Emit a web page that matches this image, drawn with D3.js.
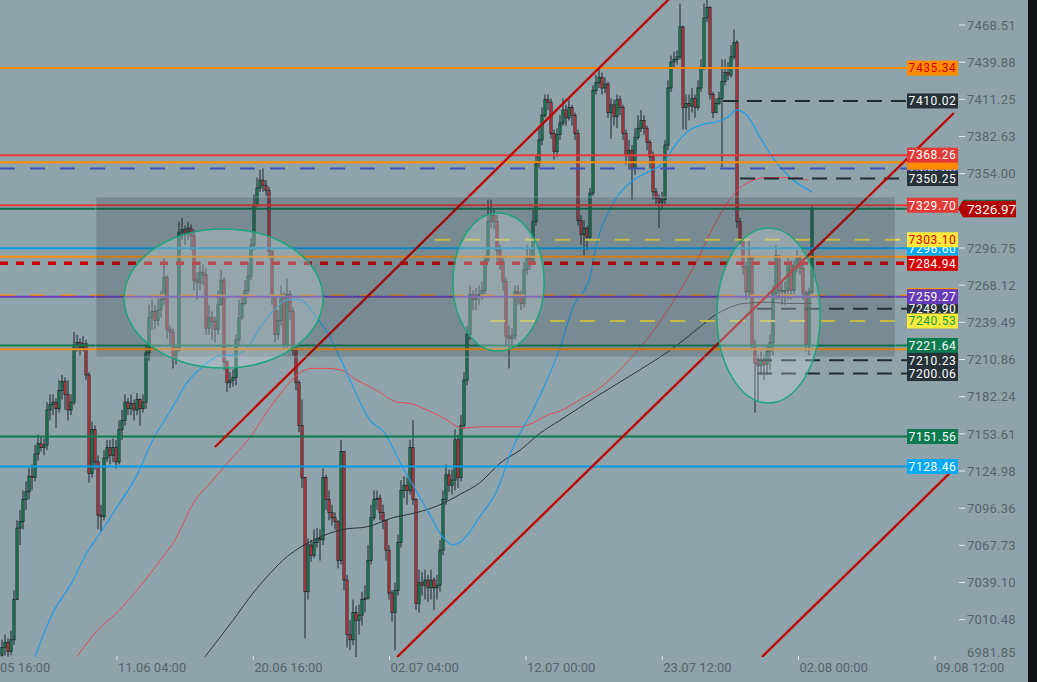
<!DOCTYPE html>
<html><head><meta charset="utf-8">
<script src="https://cdn.jsdelivr.net/npm/d3@7"></script>
<style>
html,body{margin:0;padding:0;background:#8fa3ab;overflow:hidden}
svg{display:block}
text{font-family:Roboto,"DejaVu Sans",sans-serif}
</style></head><body>
<svg id="c" width="1037" height="682"></svg>
<script>
// ---------- DATA ----------
const firstOpen = 6983;
const closes = [
6989,6993,6986,6995,7026,7081,7086,7103,7109,7121,
7120,7138,7146,7143,7145,7172,7176,7178,7173,7187,
7194,7184,7172,7178,7222,7224,7220,7223,7199,7123,
7157,7132,7091,7090,7135,7143,7137,7143,7132,7157,
7164,7178,7173,7177,7172,7180,7173,7178,7216,7243,
7248,7241,7249,7257,7274,7234,7232,7212,7218,7309,
7311,7308,7312,7306,7272,7270,7278,7276,7235,7243,
7240,7234,7253,7272,7209,7193,7195,7197,7226,7243,
7254,7264,7275,7299,7330,7343,7349,7345,7341,7294,
7259,7230,7241,7261,7222,7261,7248,7218,7193,7160,
7120,7032,7068,7060,7070,7073,7072,7120,7103,7093,
7089,7086,7056,7140,7041,6999,6995,7016,7010,7014,
7026,7027,7056,7089,7103,7104,7093,7087,7064,7031,
7016,7033,7070,7110,7114,7110,7143,7103,7023,7039,
7037,7041,7035,7041,7035,7037,7064,7103,7122,7114,
7118,7149,7120,7160,7195,7230,7261,7257,7260,7261,
7264,7287,7317,7322,7317,7295,7286,7271,7229,7227,
7229,7263,7259,7254,7280,7289,7286,7317,7362,7380,
7399,7411,7409,7385,7371,7384,7393,7403,7397,7405,
7399,7385,7318,7307,7312,7305,7339,7418,7424,7428,
7420,7423,7401,7407,7398,7411,7405,7385,7368,7372,
7358,7382,7389,7395,7389,7378,7367,7340,7335,7332,
7334,7376,7420,7440,7442,7444,7467,7405,7408,7406,
7412,7405,7420,7436,7474,7482,7415,7401,7408,7412,
7425,7432,7430,7444,7455,7317,7303,7282,7263,7289,
7222,7208,7206,7210,7207,7217,7224,7262,7291,7264,
7263,7264,7284,7264,7283,7289,7281,7262,7222,7263,
7326.97];
const highs = [
6995,6999,6996,7002,7033,7087,7095,7110,7117,7127,
7130,7145,7153,7152,7150,7178,7184,7184,7181,7195,
7199,7197,7195,7184,7232,7230,7227,7229,7226,7201,
7163,7160,7137,7099,7141,7149,7149,7150,7149,7164,
7172,7184,7181,7184,7180,7185,7181,7184,7222,7253,
7257,7253,7258,7264,7289,7276,7237,7235,7222,7317,
7320,7314,7317,7315,7311,7278,7286,7284,7281,7253,
7248,7244,7264,7280,7274,7210,7201,7203,7230,7257,
7261,7272,7286,7304,7338,7351,7357,7358,7349,7344,
7295,7261,7249,7268,7263,7273,7264,7251,7222,7195,
7180,7120,7073,7072,7080,7081,7080,7127,7122,7110,
7099,7093,7087,7149,7140,7045,7010,7026,7021,7022,
7032,7037,7068,7099,7110,7110,7107,7099,7087,7068,
7033,7039,7076,7118,7121,7120,7149,7164,7104,7049,
7047,7049,7045,7049,7043,7045,7072,7110,7130,7126,
7126,7157,7153,7168,7201,7237,7268,7264,7266,7268,
7271,7291,7334,7334,7326,7322,7299,7289,7274,7237,
7235,7268,7268,7264,7286,7299,7297,7326,7368,7389,
7405,7415,7415,7412,7388,7389,7399,7412,7407,7411,
7407,7401,7388,7322,7318,7314,7343,7422,7430,7435,
7432,7428,7425,7412,7411,7415,7414,7407,7388,7380,
7376,7389,7399,7403,7399,7391,7380,7371,7343,7338,
7340,7380,7426,7445,7448,7449,7485,7468,7415,7415,
7420,7415,7426,7442,7485,7488,7483,7417,7412,7417,
7442,7442,7440,7453,7465,7457,7320,7295,7286,7303,
7291,7226,7214,7217,7214,7222,7230,7268,7299,7291,
7272,7271,7289,7287,7287,7295,7291,7284,7264,7266,
7330];
const lows = [
6982,6983,6982,6983,6991,7026,7068,7080,7095,7103,
7110,7117,7133,7140,7137,7141,7164,7168,7158,7170,
7180,7172,7164,7168,7176,7217,7214,7217,7195,7116,
7120,7126,7080,7078,7087,7132,7130,7132,7127,7130,
7149,7160,7168,7168,7164,7168,7160,7170,7173,7210,
7234,7234,7237,7243,7253,7227,7222,7204,7207,7217,
7303,7299,7303,7295,7264,7257,7264,7268,7230,7230,
7226,7224,7230,7253,7203,7186,7189,7190,7191,7222,
7241,7253,7261,7272,7295,7328,7340,7340,7337,7289,
7253,7224,7226,7237,7218,7218,7241,7214,7187,7155,
7112,6996,7026,7055,7058,7066,7056,7068,7095,7087,
7083,7080,7050,7053,7033,6989,6987,6991,6981,6999,
7006,7016,7026,7053,7087,7095,7087,7080,7056,7026,
7009,6987,7029,7066,7104,7099,7107,7099,7018,7016,
7029,7026,7024,7026,7018,7026,7032,7060,7099,7109,
7107,7110,7112,7117,7158,7191,7226,7249,7249,7253,
7257,7261,7286,7312,7311,7287,7280,7264,7222,7204,
7218,7226,7253,7249,7251,7276,7280,7284,7314,7358,
7376,7397,7403,7381,7365,7367,7380,7391,7391,7395,
7391,7380,7314,7299,7291,7295,7303,7337,7415,7420,
7415,7416,7397,7381,7391,7389,7399,7380,7361,7357,
7334,7353,7380,7386,7384,7372,7358,7334,7330,7312,
7326,7330,7372,7417,7435,7438,7442,7388,7388,7395,
7401,7397,7403,7417,7434,7471,7411,7397,7401,7407,
7359,7422,7426,7428,7442,7312,7299,7276,7257,7260,
7218,7170,7178,7199,7195,7199,7203,7214,7257,7257,
7253,7253,7257,7257,7261,7278,7276,7257,7217,7214,
7261];

// moving averages (candle index, value)
const maFastIdx = [11,17,23.3,28.3,32.7,38.3,45,50.3,55,58.3,61.7,66.7,73.3,77,81.7,87,91.7,95,99.3,103.7,108.3,112.7,116,122.7,127.7,131.7,136,141.7,147,150.3,153.7,159.3,165,170.3,177,181.7,186,190.3,196,197,203.7,209.3,215,220.3,225,228.3,233.7,238.3,241.7,245,248.3,252.7,257,262.7,270];
const maFastVal = [6982,7016,7039,7062,7077,7097,7122,7149,7167,7180,7193,7205,7214,7214,7220,7239,7251,7257,7257,7247,7232,7212,7195,7164,7154,7136,7118,7095,7074,7068,7072,7090,7110,7143,7172,7195,7220,7251,7274,7287,7331,7347,7355,7362,7378,7386,7392,7394,7397,7403,7399,7382,7366,7351,7340];
const maMidIdx = [25,31.7,38.3,46,52.7,57.7,63.7,70.3,77,82.7,88.7,93.7,98.3,103.7,108.3,112.7,118.3,125,131.7,136,141.7,147,153.7,159.3,166,172.7,177,181.7,186,192.7,199.3,206,212.7,219.3,226,231.7,236,240.3,245,249.3,255,262.7,268.7];
const maMidVal = [6982,7002,7016,7036,7056,7072,7100,7118,7136,7151,7172,7187,7199,7204,7204,7203,7195,7187,7178,7177,7172,7166,7158,7159,7159,7159,7162,7168,7171,7180,7189,7203,7220,7240,7264,7287,7308,7326,7341,7348,7351,7351,7349];
const maSlowIdx = [67.7,77,83.7,89.3,95,99.3,105,113.7,121.7,130.3,138.3,146,152.7,159.3,166,172.7,179.3,186,199.3,212.7,222.7,232.7,237,242.7,247,255,261.7,270];
const maSlowVal = [6982,7010,7031,7046,7059,7066,7073,7080,7082,7089,7093,7099,7107,7116,7131,7141,7154,7164,7184,7203,7218,7236,7244,7251,7254,7255,7254,7254];

// horizontal levels
const levelPrices  = [7435.34,7410.02,7368.26,7362.80,7358.00,7350.25,7329.70,7303.10,7296.60,7290.00,7284.94,7260.10,7259.27,7249.90,7240.53,7221.64,7218.80,7210.23,7200.06,7151.56,7128.46];
const levelStartIdx= [-1,240.3,-1,-1,-1,246,-1,144.3,-1,-1,-1,-1,-1,251.7,162.7,-1,-1,251.7,251.7,-1,-1];
const levelKinds   = ["orange","blackDash","red","orange","blueDash","blackDash","red","yellowDash","sky","orange","redDash","orangeDash","purple","blackDash","yellowDash","green","orange","blackDash","blackDash","green","sky"];
const labelOrder   = [0,1,4,3,2,5,6,9,10,8,7,11,13,12,14,16,15,17,18,19,20];
const labelCovered = [3,9,11,16];   // labels fully hidden under neighbours: only a colour sliver shows
const lastPrice = 7326.97;

// trend lines [idx1, price1, idx2, price2]
const trendLines = [[71,7143.5,226.5,7498],[131.7,6981.7,317.3,7400.7],[253.3,6981.7,317,7125.8]];
// ellipses [idx1, price1, idx2, price2] (bounding box)
const ellipses = [[40.7,7311.4,107,7204.3],[150.3,7323.7,180.7,7217.4],[238.3,7312.2,272.7,7177.4]];
// zone rectangle
const zone = [31.3,7336.0,297.7,7212.8];

const priceTicks = [7468.51,7439.88,7411.25,7382.63,7354.00,7296.75,7268.12,7239.49,7210.86,7182.24,7153.61,7124.98,7096.36,7067.73,7039.10,7010.48,6981.85];
const timeTickIdx = [38.33,83.77,129.2,174.67,220.1,265.5,311];
const timeTickLabels = ["11.06 04:00","20.06 16:00","02.07 04:00","12.07 00:00","23.07 12:00","02.08 00:00","09.08 12:00"];
const firstTimeLabel = "05 16:00";

// ---------- STYLES ----------
const kindStyle = {
  orange:{c:"#ff8c00",w:2,d:null,bg:"#ff8c00",t:"#d50000"},
  blackDash:{c:"#222b30",w:2,d:"15,9",bg:"#263238",t:"#ffffff"},
  red:{c:"#e53935",w:2,d:null,bg:"#e53935",t:"#ffffff"},
  blueDash:{c:"#3f51b5",w:2,d:"15,15",bg:"#3f51b5",t:"#ffffff"},
  yellowDash:{c:"#f0e040",w:2,d:"15,15",bg:"#ffeb3b",t:"#d50000"},
  sky:{c:"#039be5",w:2,d:null,bg:"#03a9f4",t:"#ffffff"},
  redDash:{c:"#cc0000",w:3.5,d:"8,8",bg:"#d50000",t:"#ffffff"},
  orangeDash:{c:"#ff9800",w:2,d:"15,15",bg:"#ff9800",t:"#ffffff"},
  purple:{c:"#673ab7",w:2,d:null,bg:"#673ab7",t:"#ffffff"},
  green:{c:"#0b7a4f",w:2,d:null,bg:"#0b7a4f",t:"#ffffff"}
};
const labelTextOverride = {14:"#0a9b4a"};

// ---------- CHART ----------
const svg = d3.select("#c");
const W = 1037, H = 682;
svg.append("rect").attr("width",W).attr("height",H).attr("fill","#8fa3ab");

const x = d3.scaleLinear().domain([0,270]).range([2,812]);
const y = d3.scaleLinear().domain([7124.98,7468.51]).range([471,25]);

const defs = svg.append("defs");
defs.append("clipPath").attr("id","plot").append("rect").attr("x",0).attr("y",0).attr("width",958).attr("height",657);

const g = svg.append("g").attr("clip-path","url(#plot)");

// candles
const candles = closes.map((c,i)=>{
  const o = i===0 ? firstOpen : closes[i-1];
  return {i,o,c,h:Math.max(highs[i],o,c),l:Math.min(lows[i],o,c)};
});
const cg = g.append("g");
cg.selectAll("line.w").data(candles).join("line")
  .attr("x1",d=>x(d.i)).attr("x2",d=>x(d.i))
  .attr("y1",d=>y(d.h)).attr("y2",d=>y(d.l))
  .attr("stroke","#1c252a").attr("stroke-width",1);
cg.selectAll("rect.b").data(candles).join("rect")
  .attr("x",d=>x(d.i)-1.1).attr("width",2.2)
  .attr("y",d=>y(Math.max(d.o,d.c)))
  .attr("height",d=>Math.max(0.8,Math.abs(y(d.o)-y(d.c))))
  .attr("fill",d=>d.c>=d.o?"#12925c":"#e3343e")
  .attr("stroke","#1c252a").attr("stroke-width",0.8);

// moving averages
const mline = d3.line().x(d=>x(d[0])).y(d=>y(d[1])).curve(d3.curveMonotoneX);
g.append("path").attr("d",mline(maSlowIdx.map((v,k)=>[v,maSlowVal[k]]))).attr("fill","none").attr("stroke","#2b3236").attr("stroke-width",1);
g.append("path").attr("d",mline(maMidIdx.map((v,k)=>[v,maMidVal[k]]))).attr("fill","none").attr("stroke","#e5484d").attr("stroke-width",1);
g.append("path").attr("d",mline(maFastIdx.map((v,k)=>[v,maFastVal[k]]))).attr("fill","none").attr("stroke","#1a9ee8").attr("stroke-width",1.2);

// levels
const LX2 = 907;
levelPrices.forEach((p,k)=>{
  const s = kindStyle[levelKinds[k]];
  const ln = g.append("line")
    .attr("x1",levelStartIdx[k]<0?0:x(levelStartIdx[k])).attr("x2",LX2)
    .attr("y1",y(p)).attr("y2",y(p))
    .attr("stroke",s.c).attr("stroke-width",s.w);
  if(s.d) ln.attr("stroke-dasharray",s.d);
});
// last price line
g.append("line").attr("x1",0).attr("x2",958).attr("y1",y(lastPrice)).attr("y2",y(lastPrice))
  .attr("stroke","#0b6e47").attr("stroke-width",2);

// trend lines
trendLines.forEach(t=>{
  g.append("line").attr("x1",x(t[0])).attr("y1",y(t[1])).attr("x2",x(t[2])).attr("y2",y(t[3]))
   .attr("stroke","#c00000").attr("stroke-width",2.3);
});

// zone rectangle
g.append("rect").attr("x",x(zone[0])).attr("y",y(zone[1]))
  .attr("width",x(zone[2])-x(zone[0])).attr("height",y(zone[3])-y(zone[1]))
  .attr("fill","rgba(40,50,60,0.21)").attr("stroke","rgba(150,168,176,0.6)").attr("stroke-width",1);

// ellipses
ellipses.forEach(e=>{
  const cx=(x(e[0])+x(e[2]))/2, cy=(y(e[1])+y(e[3]))/2;
  g.append("ellipse").attr("cx",cx).attr("cy",cy)
   .attr("rx",(x(e[2])-x(e[0]))/2).attr("ry",(y(e[3])-y(e[1]))/2)
   .attr("fill","rgba(215,228,232,0.3)").attr("stroke","#1aa57a").attr("stroke-width",1.5);
});

// right axis
const ax = svg.append("g");
priceTicks.forEach(p=>{
  const yy = y(p);
  if(yy<652){
    ax.append("line").attr("x1",959).attr("x2",965).attr("y1",yy).attr("y2",yy).attr("stroke","#e6ecee").attr("stroke-width",1);
  }
  ax.append("text").attr("x",967).attr("y",Math.min(yy,652)).attr("dy","0.36em")
    .attr("fill","#55646c").attr("font-size",13).attr("letter-spacing",0.2).text(p.toFixed(2));
});

// level labels
const lg = svg.append("g");
labelOrder.forEach(k=>{
  const s = kindStyle[levelKinds[k]];
  const yy = y(levelPrices[k]);
  lg.append("rect").attr("x",907).attr("y",yy-7.5).attr("width",51).attr("height",15).attr("fill",s.bg);
  if(labelCovered.indexOf(k) < 0){
    lg.append("text").attr("x",932.5).attr("y",yy).attr("dy","0.36em").attr("text-anchor","middle")
      .attr("fill",labelTextOverride[k]||s.t).attr("font-size",12).attr("letter-spacing",0.6)
      .text(levelPrices[k].toFixed(2));
  }
});
// last price arrow
const ly = y(lastPrice);
svg.append("path").attr("d",`M958,${ly} L963,${ly-8.5} L1016,${ly-8.5} L1016,${ly+8.5} L963,${ly+8.5} Z`).attr("fill","#b30000");
svg.append("line").attr("x1",963).attr("x2",1016).attr("y1",ly-8.5).attr("y2",ly-8.5).attr("stroke","#0b6e47").attr("stroke-width",1);
svg.append("text").attr("x",967).attr("y",ly).attr("dy","0.36em").attr("fill","#ffffff").attr("font-size",13.5).text(lastPrice.toFixed(2));

// bottom axis
const bx = svg.append("g");
bx.append("text").attr("x",0).attr("y",672).attr("fill","#55646c").attr("font-size",13).text(firstTimeLabel);
timeTickIdx.forEach((t,k)=>{
  const xx = x(t);
  bx.append("line").attr("x1",xx).attr("x2",xx).attr("y1",656).attr("y2",660).attr("stroke","#e6ecee").attr("stroke-width",1);
  bx.append("text").attr("x",xx+1).attr("y",672).attr("fill","#55646c").attr("font-size",13).text(timeTickLabels[k]);
});

// right dark strip
svg.append("rect").attr("x",1028).attr("y",0).attr("width",9).attr("height",H).attr("fill","#111416");
</script>
</body></html>
